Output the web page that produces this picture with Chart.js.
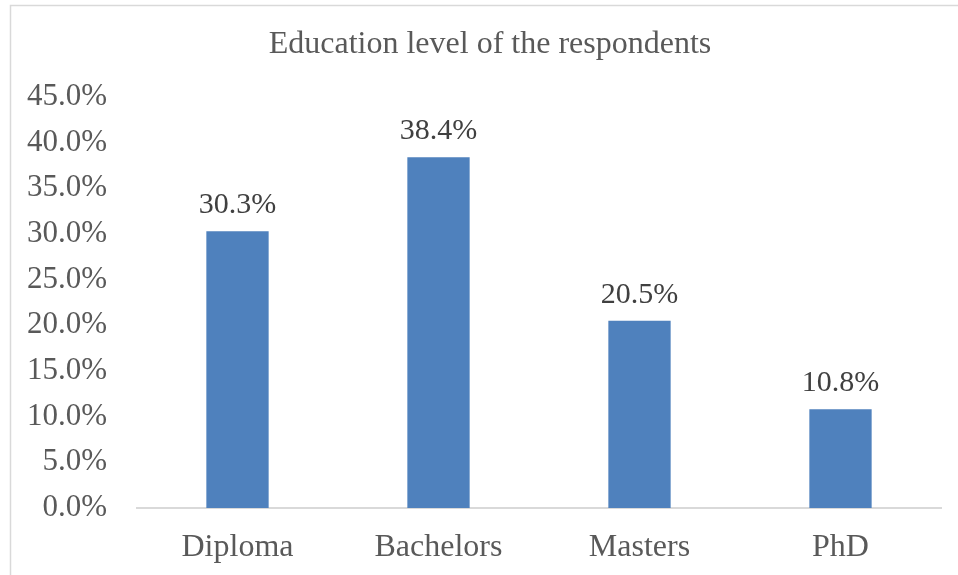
<!DOCTYPE html>
<html>
<head>
<meta charset="utf-8">
<script src="https://cdn.jsdelivr.net/npm/chart.js@4/dist/chart.umd.min.js"></script>
<style>
	html, body { margin: 0; padding: 0; background: #fff; }
	#wrap { width: 958px; height: 575px; }
</style>
</head>
<body>
<div id="wrap"><canvas id="eduChart" width="958" height="575"></canvas></div>
<script>
"use strict";

var chartTitle = 'Education level of the respondents';
var levels = ['Diploma', 'Bachelors', 'Masters', 'PhD'];
var shares = [30.3, 38.4, 20.5, 10.8];
var yMax = 45;
var yStep = 5;

var serif = '"Liberation Serif", "Times New Roman", serif';
var textColor = '#595959';

// light frame round the chart and the title, as in the office export
var framePlugin = {
	id: 'frame',
	beforeDraw: function (chart) {
		var ctx = chart.ctx;
		ctx.save();
		ctx.fillStyle = '#fff';
		ctx.fillRect(0, 0, chart.width, chart.height);
		ctx.strokeStyle = '#d9d9d9';
		ctx.lineWidth = 1.5;
		ctx.strokeRect(10.5, 5.5, chart.width + 20, chart.height + 20);
		// title is centred on the whole frame, not the plot
		ctx.font = '32px ' + serif;
		ctx.fillStyle = textColor;
		ctx.textAlign = 'center';
		ctx.textBaseline = 'middle';
		ctx.fillText(chartTitle, 490, 45);
		ctx.restore();
	}
};

// value labels above each bar
var valueLabels = {
	id: 'valueLabels',
	afterDatasetsDraw: function (chart) {
		var ctx = chart.ctx;
		var meta = chart.getDatasetMeta(0);
		ctx.save();
		ctx.font = '30px ' + serif;
		ctx.fillStyle = '#404040';
		ctx.textAlign = 'center';
		ctx.textBaseline = 'alphabetic';
		meta.data.forEach(function (bar, i) {
			var v = chart.data.datasets[0].data[i];
			ctx.fillText(v.toFixed(1) + '%', bar.x, bar.y - 18);
		});
		ctx.restore();
	}
};

var eduChart = new Chart('eduChart', {
	type: 'bar',
	data: {
		labels: levels,
		datasets: [{
			data: shares,
			backgroundColor: '#4f81bd',
			borderWidth: 0,
			categoryPercentage: 1,
			barPercentage: 0.31
		}]
	},
	options: {
		responsive: false,
		animation: false,
		devicePixelRatio: 1,
		layout: {
			padding: { left: 0, right: 17, top: 97, bottom: 0 }
		},
		plugins: {
			legend: { display: false },
			tooltip: { enabled: false },
			title: { display: false }
		},
		scales: {
			x: {
				grid: { display: false, drawTicks: false },
				border: { display: true, color: '#d9d9d9', width: 2 },
				ticks: {
					color: textColor,
					font: { family: serif, size: 32 },
					padding: 20
				},
				afterFit: function (scale) {
					scale.height = 67;
				}
			},
			y: {
				min: 0,
				max: yMax,
				grid: { display: false, drawTicks: false },
				border: { display: false },
				ticks: {
					stepSize: yStep,
					color: textColor,
					font: { family: serif, size: 31 },
					padding: 30,
					callback: function (v) {
						return v.toFixed(1) + '%';
					}
				},
				afterFit: function (scale) {
					scale.width = 137;
				}
			}
		}
	},
	plugins: [framePlugin, valueLabels]
});
</script>
</body>
</html>
